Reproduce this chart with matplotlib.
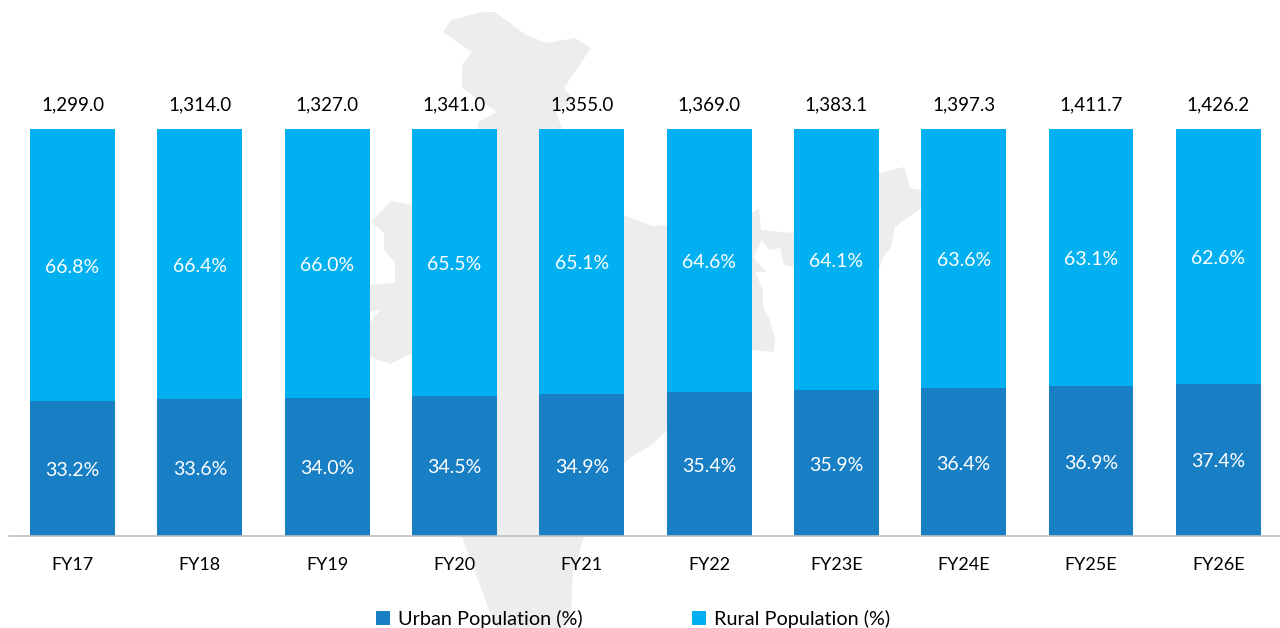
import matplotlib
matplotlib.use('Agg')
import matplotlib.pyplot as plt
from matplotlib.patches import Polygon

plt.rcParams['font.family'] = ['Lato', 'DejaVu Sans']

years = ['FY17', 'FY18', 'FY19', 'FY20', 'FY21', 'FY22', 'FY23E', 'FY24E', 'FY25E', 'FY26E']
urban = [33.2, 33.6, 34.0, 34.5, 34.9, 35.4, 35.9, 36.4, 36.9, 37.4]
rural = [66.8, 66.4, 66.0, 65.5, 65.1, 64.6, 64.1, 63.6, 63.1, 62.6]
totals = [1299.0, 1314.0, 1327.0, 1341.0, 1355.0, 1369.0, 1383.1, 1397.3, 1411.7, 1426.2]

# background map outline, in picture pixels
india_outline = [
    (483, 12), (495, 12), (526, 35), (547, 43), (575, 38), (591, 48), (564, 88), (573, 100),
    (556, 112), (562, 129), (590, 180), (624, 215), (652, 226), (667, 225), (752, 213), (759, 208),
    (761, 230), (793, 233), (879, 173), (904, 167), (910, 188), (921, 190), (921, 208), (895, 227),
    (891, 247), (883, 257), (879, 270), (793, 267), (784, 265), (780, 248), (769, 250), (762, 240),
    (753, 258), (767, 272), (755, 272), (763, 290), (763, 307), (770, 320), (775, 340), (774, 352),
    (751, 350), (667, 430), (652, 445), (631, 457), (624, 463), (584, 537), (573, 573), (571, 610),
    (566, 628), (497, 628), (489, 610), (462, 537), (430, 400), (413, 353), (390, 364), (371, 357),
    (369, 355), (369, 325), (372, 320), (380, 310), (369, 312), (369, 285), (395, 283), (395, 263),
    (384, 250), (384, 233), (371, 222), (391, 201), (412, 205), (478, 129), (478, 122), (497, 112),
    (462, 88), (462, 65), (472, 52), (443, 32), (451, 20),
]

fig = plt.figure(figsize=(12.8, 6.28), dpi=100)

bg = fig.add_axes([0, 0, 1, 1], zorder=0)
bg.set_xlim(0, 1280)
bg.set_ylim(628, 0)
bg.axis('off')
bg.add_patch(Polygon(india_outline, closed=True, facecolor='#ededed', edgecolor='none'))

ax = fig.add_axes([8.9 / 1280, (628 - 536) / 628, 1271.1 / 1280, 529 / 628], zorder=1)
ax.patch.set_alpha(0)

x = range(len(years))
b1 = ax.bar(x, urban, width=0.667, color='#187fc4', label='Urban Population (%)')
b2 = ax.bar(x, rural, width=0.667, bottom=urban, color='#00b0f0', label='Rural Population (%)')

for i in x:
    ax.annotate('{:.1f}%'.format(urban[i]), (i, urban[i] / 2), xytext=(0, -1.5), textcoords='offset points',
                ha='center', va='center', color='white', fontsize=14)
    ax.annotate('{:.1f}%'.format(rural[i]), (i, urban[i] + rural[i] / 2), xytext=(0, -1.5), textcoords='offset points',
                ha='center', va='center', color='white', fontsize=14)
    ax.annotate('{:,.1f}'.format(totals[i]), (i, 100), xytext=(0, 17.5), textcoords='offset points',
                ha='center', va='center', color='black', fontsize=13.5)

ax.set_xlim(-0.5, 9.485)
ax.set_ylim(0, 130)
ax.set_xticks(list(x))
ax.set_xticklabels(years, fontsize=13, color='black')
ax.tick_params(axis='x', length=0, pad=15)
ax.set_yticks([])
for s in ['top', 'left', 'right']:
    ax.spines[s].set_visible(False)
ax.spines['bottom'].set_color('#bfbfbf')
ax.spines['bottom'].set_linewidth(1.2)

fig.legend(handles=[b1, b2], loc='center', bbox_to_anchor=(633 / 1280, (628 - 619) / 628), ncol=2, frameon=False,
           fontsize=14.3, handlelength=0.7, handleheight=0.7, handletextpad=0.4, columnspacing=5.55, borderpad=0)

plt.savefig('out.png', dpi=100)
plt.clf()
